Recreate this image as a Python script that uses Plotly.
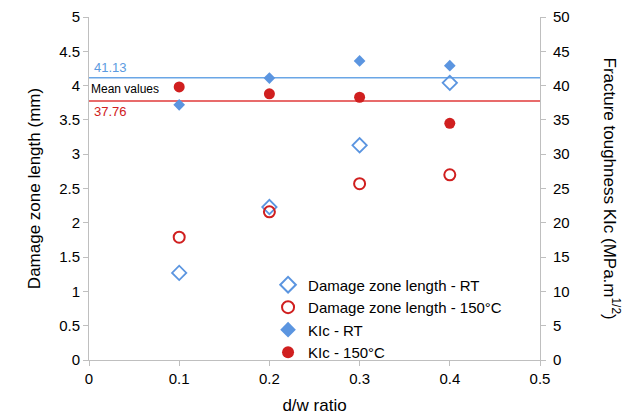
import plotly.graph_objects as go

ratio = [0.1, 0.2, 0.3, 0.4]
dz_rt = [1.27, 2.23, 3.13, 4.04]
dz_150 = [1.79, 2.16, 2.57, 2.70]
kic_rt = [37.2, 41.1, 43.6, 42.9]
kic_150 = [39.8, 38.8, 38.3, 34.5]
mean_rt = 41.13
mean_150 = 37.76

blue = "#5b95e0"
red = "#d01f1f"
font = "Liberation Sans, Arial, sans-serif"

fig = go.Figure()
fig.add_trace(go.Scatter(x=ratio, y=dz_rt, mode="markers", name="Damage zone length - RT",
                         marker=dict(symbol="diamond-open", size=11, color=blue, line=dict(width=1.8, color=blue))))
fig.add_trace(go.Scatter(x=ratio, y=dz_150, mode="markers", name="Damage zone length - 150°C",
                         marker=dict(symbol="circle-open", size=11, color=red, line=dict(width=2, color=red))))
fig.add_trace(go.Scatter(x=ratio, y=kic_rt, mode="markers", name="KIc - RT", yaxis="y2",
                         marker=dict(symbol="diamond", size=9, color=blue)))
fig.add_trace(go.Scatter(x=ratio, y=kic_150, mode="markers", name="KIc - 150°C", yaxis="y2",
                         marker=dict(symbol="circle", size=11, color=red)))

fig.add_shape(type="line", xref="x", yref="y2", x0=0, x1=0.5, y0=mean_rt, y1=mean_rt,
              line=dict(color="#6aa6e6", width=1.5), layer="below")
fig.add_shape(type="line", xref="x", yref="y2", x0=0, x1=0.5, y0=mean_150, y1=mean_150,
              line=dict(color="#e03a3a", width=1.5), layer="below")

fig.add_annotation(x=0.003, y=mean_rt, xref="x", yref="y2", text=f"{mean_rt:.2f}", showarrow=False,
                   xanchor="left", yanchor="bottom", yshift=1, font=dict(family=font, size=13, color="#5b9be0"))
fig.add_annotation(x=0.0, y=(mean_rt + mean_150) / 2, xref="x", yref="y2", text="Mean values", showarrow=False,
                   xanchor="left", yanchor="middle", font=dict(family=font, size=12, color="black"))
fig.add_annotation(x=0.003, y=mean_150, xref="x", yref="y2", text=f"{mean_150:.2f}", showarrow=False,
                   xanchor="left", yanchor="top", yshift=-1, font=dict(family=font, size=13, color="#d02020"))

fig.add_annotation(x=1.0, y=0.5, xref="paper", yref="paper", xshift=85, text="Fracture toughness KIc (MPa.m<sup>1/2</sup>)",
                   textangle=90, showarrow=False, font=dict(family=font, size=17, color="black"))

axis_common = dict(showgrid=False, zeroline=False, showline=True, linecolor="#bfbfbf", linewidth=1,
                   ticks="outside", tickcolor="#bfbfbf", ticklen=5, automargin=False,
                   ticklabeloverflow="allow",
                   tickfont=dict(family=font, size=15, color="black"))

fig.update_layout(
    width=632, height=413,
    margin=dict(l=81, r=100, t=9, b=61),
    paper_bgcolor="white", plot_bgcolor="white",
    font=dict(family=font, color="black"),
    xaxis=dict(range=[0, 0.5], dtick=0.1, title=dict(text="d/w ratio", font=dict(family=font, size=17), standoff=13),
               **axis_common),
    yaxis=dict(range=[0, 5], dtick=0.5, title=dict(text="Damage zone length (mm)", font=dict(family=font, size=17), standoff=14),
               **axis_common),
    yaxis2=dict(range=[0, 50], dtick=5, overlaying="y", side="right", ticklabelstandoff=4, **axis_common),
    legend=dict(x=0.397, y=0.267, xanchor="left", yanchor="top", bgcolor="rgba(0,0,0,0)",
                font=dict(family=font, size=15), itemsizing="constant", tracegroupgap=0),
    showlegend=True,
)

fig.write_html("out.html")
